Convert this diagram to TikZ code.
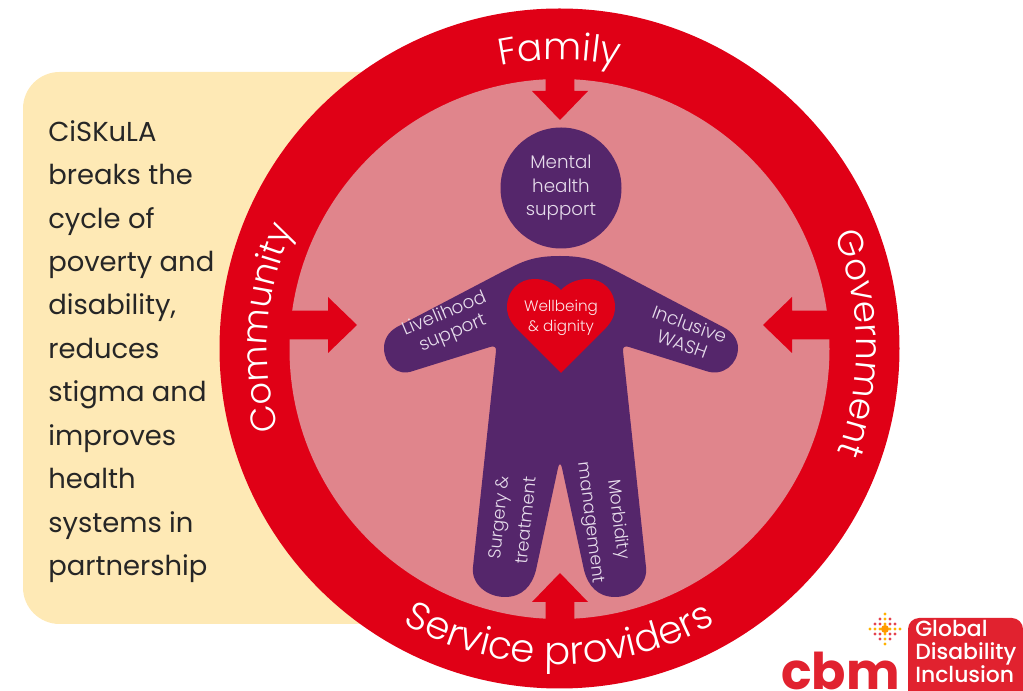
\documentclass[tikz,border=0pt]{standalone}
\usepackage{fontspec}
\setmainfont{Poppins}
\newfontfamily\ringfont{Poppins Light}
\newfontfamily\badgefont{Poppins Medium}
\usetikzlibrary{decorations.text}
\definecolor{ringred}{HTML}{E00016}
\definecolor{ringpink}{HTML}{E0858C}
\definecolor{bodypurple}{HTML}{55266B}
\definecolor{cardcream}{HTML}{FEE9B5}
\definecolor{limbtext}{HTML}{E6DCEB}
\definecolor{logored}{HTML}{E1222F}
\tikzset{
  limblabel/.style={text=limbtext,align=center,font=\ringfont\fontsize{13}{14.8}\selectfont,inner sep=0pt},
  leglabel/.style={limblabel,font=\ringfont\fontsize{12.5}{19.5}\selectfont},
  ringlabel/.style 2 args={decorate,decoration={text along path,text align=center,text={|\ringfont\fontsize{#1}{#1}\selectfont\color{white}|#2}}}
}
\begin{document}
\begin{tikzpicture}[x=0.25mm,y=-0.25mm]
    \useasboundingbox (0,0) rectangle (1023,691);

    %Tarjeta
    \fill[cardcream,rounded corners=26] (23,72) rectangle (420,624);
    \node[anchor=north west,align=left,inner sep=0pt,text=black!85,font=\fontsize{19.5}{30.9}\selectfont] (cardtext) at (48,120)
        {CiSKuLA\\breaks the\\cycle of\\poverty and\\disability,\\reduces\\stigma and\\improves\\health\\systems in\\partnership};

    %Anillo
    \fill[ringred] (559.5,348.5) circle (340);
    \fill[ringpink] (559.5,349) circle (270);

    %Flechas
    \foreach \px/\py/\rot in {560/120/0,357/325/90,763/325/-90,560/573/180}{
        \fill[ringred,shift={(\px,\py)},rotate=\rot] (0,0)--(-28,-29)--(-14.3,-29)--(-14.3,-78)--(14.3,-78)--(14.3,-29)--(28,-29)--cycle;
    }

    %Cuerpo
    \fill[bodypurple] (560,256) .. controls (590,256) and (600,263) .. (620,273)
        -- (723,327) .. controls (733,332) and (738,340) .. (738,348)
        .. controls (738,364) and (723,377) .. (706,371)
        -- (629,347) .. controls (625,345.5) and (622.5,347) .. (623,351)
        -- (646,567) .. controls (648,584) and (633,597) .. (615,597)
        .. controls (598,597) and (588,586) .. (584,570)
        -- (562,468) .. controls (561,463) and (559,463) .. (558,468)
        -- (536,570) .. controls (532,586) and (522,597) .. (505,597)
        .. controls (487,597) and (471,584) .. (473,567)
        -- (496,351) .. controls (496.5,347) and (494,345.5) .. (490,347)
        -- (413,371) .. controls (397,377) and (384,364) .. (384,348)
        .. controls (384,340) and (388,332) .. (397,327)
        -- (500,273) .. controls (520,263) and (530,256) .. (560,256) -- cycle;

    %Corazon
    \fill[ringred] (561,373) -- (519,331) .. controls (512,324) and (507,317) .. (507,307)
        .. controls (507,291) and (519,279) .. (534,279)
        .. controls (545,279) and (554,283) .. (561,290)
        .. controls (568,283) and (577,279) .. (588,279)
        .. controls (603,279) and (615,291) .. (615,307)
        .. controls (615,317) and (610,324) .. (603,331) -- cycle;

    %Cabeza
    \node[circle,fill=bodypurple,minimum size=121*0.25mm,inner sep=0pt,text=limbtext,align=center,font=\ringfont\fontsize{13}{16.7}\selectfont] (headnode) at (561,188) {Mental\\health\\support};

    %Etiquetas
    \node[limblabel,text=white!90!ringred,font=\ringfont\fontsize{10.8}{14.5}\selectfont] (heartlabel) at (561,318) {Wellbeing\\\& dignity};
    \node[limblabel,rotate=23] (armleft) at (449,324) {Livelihood\\support};
    \node[limblabel,rotate=-20] (armright) at (686,334) {Inclusive\\WASH};
    \node[leglabel,rotate=84] (legleft) at (512,519) {Surgery \&\\treatment};
    \node[leglabel,rotate=-83] (legright) at (604,521) {Morbidity\\management};

    %Texto del anillo
    \path[ringlabel={26.5}{Family}] (559.5,348.5) ++(225:289) arc (225:315:289);
    \path[ringlabel={25.5}{Government}] (559.5,348.5) ++(-50:297) arc (-50:48:297);
    \path[ringlabel={25}{Community}] (559.5,348.5) ++(140:292) arc (140:228:292);
    \path[ringlabel={27.5}{Service providers}] (559.5,348.5) ++(150:316) arc (150:30:316);

    %Logo
    \begin{scope}
        \clip (0,0) rectangle (1023,691);
        \node[anchor=base west,inner sep=0pt,text=logored,font=\fontsize{36}{36}\selectfont\bfseries] (cbmword) at (781,690) {cbm};
        \fill[logored,rounded corners=8] (908,618) rectangle (1023,720);
        \node[anchor=north west,align=left,inner sep=0pt,text=white,font=\badgefont\fontsize{15.6}{16}\selectfont] (badgetext) at (915,620) {Global\\Disability\\Inclusion};
        \foreach \i in {-3,...,3}{
            \foreach \j in {-3,...,3}{
                \pgfmathtruncatemacro{\dist}{abs(\i)+abs(\j)}
                \ifnum\dist<4
                    \pgfmathtruncatemacro{\warm}{abs(\i)*abs(\j)}
                    \ifnum\warm=0
                        \fill[orange!60!yellow] (885+\i*5,629+\j*5) circle (1.7);
                    \else
                        \fill[logored!85] (885+\i*5,629+\j*5) circle (1.6);
                    \fi
                \fi
            }
        }
        \fill[orange!80!yellow] (885,629) circle (4);
    \end{scope}
\end{tikzpicture}
\end{document}
